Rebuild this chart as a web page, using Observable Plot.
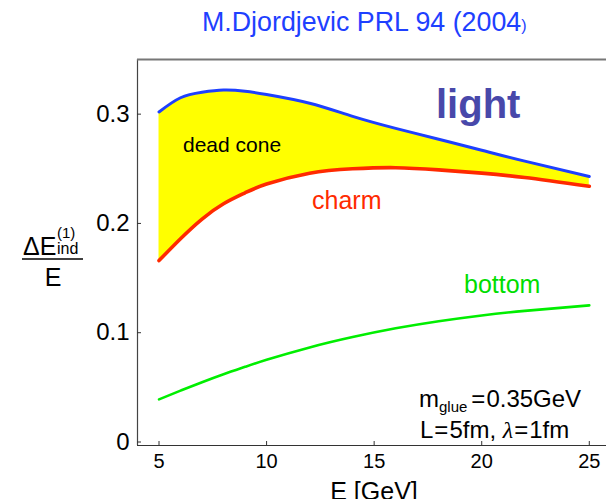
<!DOCTYPE html>
<html>
<head>
<meta charset="utf-8">
<script src="https://cdn.jsdelivr.net/npm/d3@7"></script>
<script src="https://cdn.jsdelivr.net/npm/@observablehq/plot@0.6"></script>
<style>
  html, body { margin: 0; padding: 0; background: #fff; }
  #chart svg { display: block; }
</style>
</head>
<body>
<div id="chart"></div>
<script>
// Fractional radiative energy loss ΔE(1)_ind / E versus jet energy E [GeV]
const energies   = [5, 6, 7, 8, 9, 10, 12, 14, 16, 18, 20, 22, 25];
const lightLoss  = [0.302, 0.315, 0.320, 0.322, 0.321, 0.318, 0.310, 0.298, 0.287, 0.277, 0.267, 0.257, 0.243];
const charmLoss  = [0.166, 0.186, 0.204, 0.218, 0.228, 0.236, 0.246, 0.250, 0.251, 0.249, 0.246, 0.242, 0.234];
const bottomLoss = [0.039, 0.047, 0.0547, 0.062, 0.0688, 0.0752, 0.0865, 0.096, 0.104, 0.1105, 0.1158, 0.120, 0.125];

const xTicks = [5, 10, 15, 20, 25];
const yTicks = [0, 0.1, 0.2, 0.3];
const yTickLabels = ["0", "0.1", "0.2", "0.3"];

const rows = energies.map((e, i) => ({
  e, light: lightLoss[i], charm: charmLoss[i], bottom: bottomLoss[i]
}));

const W = 606, H = 499;
const mL = 137, mR = 0, mT = 59, mB = 54;
const xDomain = [4, 25.8];
const yDomain = [-0.0032, 0.35];
const font = "Arial, 'Liberation Sans', Helvetica, sans-serif";

const plot = Plot.plot({
  width: W, height: H,
  marginLeft: mL, marginRight: mR, marginTop: mT, marginBottom: mB,
  style: { fontFamily: font, background: "#fff", color: "#000" },
  x: { domain: xDomain },
  y: { domain: yDomain },
  marks: [
    // dead-cone band between light and charm
    Plot.areaY(rows, { x: "e", y1: "charm", y2: "light", fill: "#ffff00", curve: "natural" }),
    Plot.line(rows, { x: "e", y: "bottom", stroke: "#00ee00", strokeWidth: 2.6, curve: "natural" }),
    Plot.line(rows, { x: "e", y: "charm", stroke: "#ff2a00", strokeWidth: 3.6, curve: "natural" }),
    Plot.line(rows, { x: "e", y: "light", stroke: "#1e40ff", strokeWidth: 3, curve: "natural" }),
    // frame: left, bottom and top edges
    Plot.ruleX([xDomain[0]], { stroke: "#444", strokeWidth: 1.2 }),
    Plot.ruleY([yDomain[0]], { stroke: "#333", strokeWidth: 1.2 }),
    Plot.ruleY([yDomain[1]], { stroke: "#777", strokeWidth: 2 }),
    // inward tick marks
    Plot.tickX(xTicks, { x: d => d, insetTop: (H - mT - mB) - 4, stroke: "#333" }),
    Plot.tickY(yTicks, { y: d => d, insetRight: (W - mL - mR) - 4, stroke: "#333" }),
    // tick labels
    Plot.axisX(xTicks, { tickSize: 0, tickPadding: 8, fontSize: 20, label: null }),
    Plot.axisY(yTicks, { tickSize: 0, tickPadding: 8, fontSize: 24, label: null,
      tickFormat: d => yTickLabels[yTicks.indexOf(d)] })
  ]
});

document.getElementById("chart").appendChild(plot);

// annotations
const svg = d3.select(plot);
const g = svg.append("g").attr("font-family", font).attr("text-anchor", "start");

function label(x, y, text, size, fill, opts = {}) {
  return g.append("text")
    .attr("x", x).attr("y", y)
    .attr("font-size", size)
    .attr("fill", fill)
    .attr("font-weight", opts.weight || null)
    .attr("text-anchor", opts.anchor || "start")
    .text(text);
}

// title
const title = g.append("text").attr("x", 202).attr("y", 31).attr("fill", "#1e40ff").attr("font-size", 26.8);
title.append("tspan").text("M.Djordjevic PRL 94 (2004");
title.append("tspan").attr("font-size", 16).text(")");

label(436, 118, "light", 40, "#4848aa", { weight: "bold" });
label(183, 152, "dead cone", 21, "#000");
label(312, 209, "charm", 25, "#ff2a00");
label(464, 293, "bottom", 25, "#00dd00");

// parameter box
const p1 = g.append("text").attr("x", 419).attr("y", 407).attr("font-size", 24).attr("fill", "#000");
p1.append("tspan").text("m");
p1.append("tspan").attr("font-size", 15).attr("dy", 5).text("glue");
p1.append("tspan").attr("dy", -5).attr("dx", 4).text("=");
p1.append("tspan").attr("dx", 1).text("0.35GeV");

const serif = "'Liberation Serif', 'DejaVu Serif', serif";
const p2 = g.append("text").attr("x", 420).attr("y", 438).attr("font-size", 24).attr("fill", "#000");
p2.append("tspan").text("L");
p2.append("tspan").attr("dx", 1).text("=");
p2.append("tspan").attr("dx", 1).text("5fm, ");
p2.append("tspan").attr("font-family", serif).attr("font-style", "italic").text("λ");
p2.append("tspan").attr("dx", 1).text("=");
p2.append("tspan").attr("dx", 1).text("1fm");

// y-axis title as a fraction
label(23, 255, "ΔE", 25, "#000");
label(57, 238, "(1)", 15, "#000");
label(57, 254, "ind", 16, "#000");
g.append("line").attr("x1", 22).attr("x2", 83).attr("y1", 259).attr("y2", 259)
  .attr("stroke", "#000").attr("stroke-width", 1.5);
label(53, 286, "E", 25, "#000", { anchor: "middle" });

// x-axis title
label(374, 500, "E [GeV]", 25, "#000", { anchor: "middle" });
</script>
</body>
</html>
